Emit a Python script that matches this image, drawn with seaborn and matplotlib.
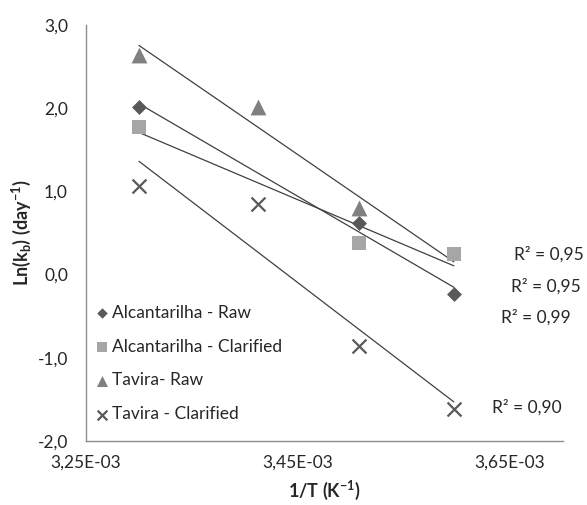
import numpy as np
import pandas as pd
import matplotlib
matplotlib.use("Agg")
import matplotlib.pyplot as plt
import seaborn as sns
from matplotlib.ticker import FuncFormatter, FixedLocator

# ---- data ----
series_names = ["Alcantarilha - Raw", "Alcantarilha - Clarified", "Tavira- Raw", "Tavira - Clarified"]
x_alc_raw = [3.30e-3, 3.508e-3, 3.597e-3]
y_alc_raw = [2.02, 0.62, -0.23]
x_alc_cla = [3.30e-3, 3.508e-3, 3.597e-3]
y_alc_cla = [1.77, 0.38, 0.25]
x_tav_raw = [3.30e-3, 3.412e-3, 3.508e-3]
y_tav_raw = [2.64, 2.02, 0.80]
x_tav_cla = [3.30e-3, 3.412e-3, 3.508e-3, 3.597e-3]
y_tav_cla = [1.06, 0.85, -0.86, -1.61]
r2_labels = ["R² = 0,99", "R² = 0,95", "R² = 0,95", "R² = 0,90"]
x_ticks = [3.25e-3, 3.45e-3, 3.65e-3]
y_ticks = [-2.0, -1.0, 0.0, 1.0, 2.0, 3.0]

xs = [x_alc_raw, x_alc_cla, x_tav_raw, x_tav_cla]
ys = [y_alc_raw, y_alc_cla, y_tav_raw, y_tav_cla]
df = pd.DataFrame({
    "x": sum(xs, []),
    "y": sum(ys, []),
    "series": sum([[n] * len(v) for n, v in zip(series_names, xs)], []),
})

colors = ["#595959", "#a6a6a6", "#808080", "#595959"]
markers = ["D", "s", "^", "x"]
msizes = [58, 115, 130, 100]
# label positions (style)
r2_pos = [(3.6415e-3, -0.52), (3.6538e-3, 0.24), (3.651e-3, -0.14), (3.633e-3, -1.60)]

sns.set_theme(style="white")
plt.rcParams['font.family'] = ['Lato', 'DejaVu Sans']

FS = 12.5
fig = plt.figure(figsize=(5.87, 5.05), dpi=100)
ax = fig.add_axes([86/587, 1-441/505, (563-86)/587, (441-25)/505])

xmax_all = max(max(v) for v in xs)
for i, name in enumerate(series_names):
    sub = df[df["series"] == name]
    # trendline (linear fit, forecast forward to last x of chart)
    b, a = np.polyfit(sub["x"], sub["y"], 1)
    xl = np.array([sub["x"].min(), xmax_all])
    ax.plot(xl, a + b * xl, color="#404040", lw=0.9, zorder=2)

for i, name in enumerate(series_names):
    sub = df[df["series"] == name]
    if markers[i] == "x":
        sns.scatterplot(data=sub, x="x", y="y", ax=ax, marker="x", s=msizes[i],
                        color=colors[i], linewidth=1.6, label=name, zorder=3)
    else:
        sns.scatterplot(data=sub, x="x", y="y", ax=ax, marker=markers[i], s=msizes[i],
                        color=colors[i], linewidth=0, label=name, zorder=3)

for lab, (px, py) in zip(r2_labels, r2_pos):
    ax.text(px, py, lab, fontsize=FS, color="#262626", ha="left", va="center", clip_on=False)

ax.set_xlim(3.25e-3, 3.70e-3)
ax.set_ylim(-2.0, 3.0)
ax.xaxis.set_major_locator(FixedLocator(x_ticks))
ax.yaxis.set_major_locator(FixedLocator(y_ticks))
ax.xaxis.set_major_formatter(FuncFormatter(lambda v, p: ("%.2E" % v).replace(".", ",")))
ax.yaxis.set_major_formatter(FuncFormatter(lambda v, p: ("%.1f" % v).replace(".", ",")))
ax.tick_params(axis="both", length=0, labelsize=FS, labelcolor="#262626")
ax.tick_params(axis="y", pad=13)
ax.tick_params(axis="x", pad=10)

for s in ["top", "right"]:
    ax.spines[s].set_visible(False)
for s in ["left", "bottom"]:
    ax.spines[s].set_color("#8c8c8c")
    ax.spines[s].set_linewidth(1.0)

ax.set_xlabel(r"1/T (K$^\mathregular{-1}$)", fontsize=13, fontweight="bold", labelpad=6)
ax.set_ylabel(r"Ln(k$_\mathregular{b}$) (day$^\mathregular{-1}$)", fontsize=13, fontweight="bold")
ax.yaxis.set_label_coords(-0.111, 0.5)

leg = ax.legend(loc="upper left", bbox_to_anchor=(0.0, 0.352), frameon=False, fontsize=FS,
                handlelength=0.6, handletextpad=0.3, labelspacing=1.02, borderaxespad=0.2,
                markerscale=0.7)
for t in leg.get_texts():
    t.set_color("#262626")

fig.savefig("out.png", dpi=100)
